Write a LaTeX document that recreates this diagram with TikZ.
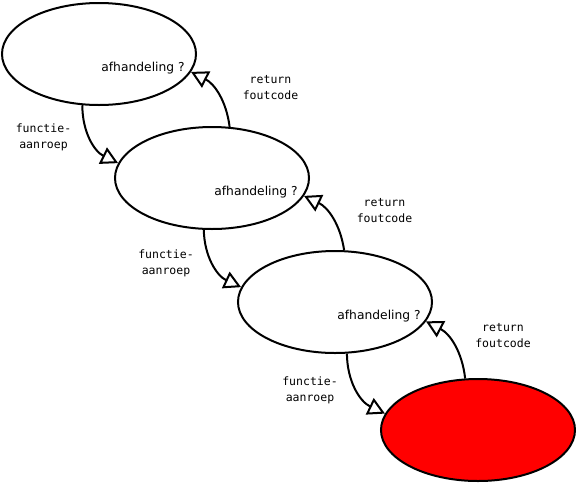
\documentclass[tikz,border=0pt]{standalone}
\usepackage{fontspec}
\setmainfont{DejaVu Sans}
\setmonofont{DejaVu Sans Mono}
\usetikzlibrary{arrows.meta,positioning,shapes.geometric,calc}
\definecolor{fail}{HTML}{FF0000}

\begin{document}
\begin{tikzpicture}[
  x=1pt, y=1pt,
  level/.style={draw=black, fill=white, line width=2pt, ellipse, inner sep=0pt, minimum width=194pt, minimum height=102pt},
  failed/.style={level, fill=fail},
  ask/.style={font=\fontsize{12.3}{14}\selectfont},
  lbl/.style={font=\ttfamily\fontsize{11.5}{16}\selectfont, align=center},
  arr/.style={line width=2pt, -{Triangle[fill=white, line width=2pt, length=17pt, width=18pt]}},
]
\useasboundingbox (0,0) rectangle (576,-483);

\node[level] (lvl1) at (99,-54) {};
\node[level] (lvl2) at (212,-178) {};
\node[level] (lvl3) at (335,-302) {};
\node[failed] (lvl4) at (478,-430) {};

\node[ask] (ask1) at ($(lvl1.center)+(44,-14.5)$) {afhandeling ?};
\node[ask] (ask2) at ($(lvl2.center)+(44,-14.5)$) {afhandeling ?};
\node[ask] (ask3) at ($(lvl3.center)+(44,-14.5)$) {afhandeling ?};

\draw[arr] (lvl1.252) to[bend right=32] (lvl2.171);
\draw[arr] (lvl2.261) to[bend right=32] (lvl3.171);
\draw[arr] (lvl3.283) to[bend right=32] (lvl4.170);

\draw[arr] (lvl2.71) to[bend right=28] (lvl1.-11.5);
\draw[arr] (lvl3.80) to[bend right=28] (lvl2.-11.5);
\draw[arr] (lvl4.104) to[bend right=28] (lvl3.-12.5);

\node[lbl] (call1) at (43.5,-137.5) {functie-\\aanroep};
\node[lbl] (call2) at (166,-263) {functie-\\aanroep};
\node[lbl] (call3) at (310,-390) {functie-\\aanroep};
\node[lbl] (ret1) at (270.5,-88) {return\\foutcode};
\node[lbl] (ret2) at (384.5,-211) {return\\foutcode};
\node[lbl] (ret3) at (503,-336) {return\\foutcode};

\end{tikzpicture}
\end{document}
